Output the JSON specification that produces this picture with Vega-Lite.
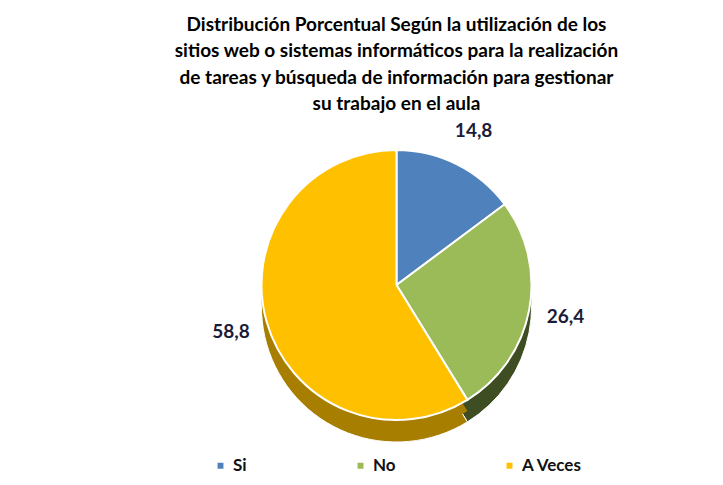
{
  "$schema": "https://vega.github.io/schema/vega-lite/v6.json",
  "width": 653,
  "height": 310,
  "autosize": "none",
  "padding": {"left": 70, "right": 0, "top": 130, "bottom": 45},
  "background": "white",
  "config": {
    "view": {"stroke": null},
    "locale": {"number": {"decimal": ",", "thousands": ".", "grouping": [3], "currency": ["", ""]}}
  },
  "title": {
    "text": [
      "Distribución Porcentual Según la utilización de los",
      "sitios web o sistemas informáticos para la realización",
      "de tareas y búsqueda de información para gestionar",
      "su trabajo en el aula"
    ],
    "font": "Lato",
    "fontSize": 19,
    "fontWeight": "bold",
    "color": "#000000",
    "lineHeight": 26.5,
    "anchor": "middle",
    "offset": 8
  },
  "data": {
    "values": [
      {"categoria": "Si", "valor": 14.8, "orden": 1},
      {"categoria": "No", "valor": 26.4, "orden": 2},
      {"categoria": "A Veces", "valor": 58.8, "orden": 3}
    ]
  },
  "encoding": {
    "theta": {"field": "valor", "type": "quantitative", "stack": true},
    "order": {"field": "orden", "type": "quantitative"}
  },
  "resolve": {"scale": {"color": "independent"}},
  "layer": [
    {
      "mark": {"type": "arc", "outerRadius": 135, "yOffset": 22, "stroke": "white", "strokeWidth": 1},
      "encoding": {
        "color": {
          "field": "categoria",
          "type": "nominal",
          "scale": {"domain": ["Si", "No", "A Veces"], "range": ["#36597F", "#3F4D22", "#A77E00"]},
          "legend": null
        }
      }
    },
    {
      "mark": {"type": "arc", "outerRadius": 135, "yOffset": 11},
      "encoding": {
        "color": {
          "field": "categoria",
          "type": "nominal",
          "scale": {"domain": ["Si", "No", "A Veces"], "range": ["#36597F", "#3F4D22", "#A77E00"]},
          "legend": null
        }
      }
    },
    {
      "mark": {"type": "arc", "outerRadius": 135, "stroke": "white", "strokeWidth": 2},
      "encoding": {
        "color": {
          "field": "categoria",
          "type": "nominal",
          "scale": {"domain": ["Si", "No", "A Veces"], "range": ["#4F81BD", "#9BBB59", "#FFC000"]},
          "legend": {
            "title": null,
            "orient": "none",
            "legendX": 142,
            "legendY": 327,
            "direction": "horizontal",
            "columns": 3,
            "columnPadding": 105,
            "symbolType": "square",
            "symbolSize": 55,
            "labelFont": "Lato",
            "labelFontSize": 17,
            "labelFontWeight": "bold",
            "labelColor": "#111111",
            "labelLimit": 200
          }
        }
      }
    },
    {
      "mark": {"type": "text", "radius": 172, "font": "Lato", "fontSize": 19, "fontWeight": "bold", "color": "#1c1c3a"},
      "encoding": {
        "text": {"field": "valor", "type": "quantitative", "format": ".1f"}
      }
    }
  ]
}
